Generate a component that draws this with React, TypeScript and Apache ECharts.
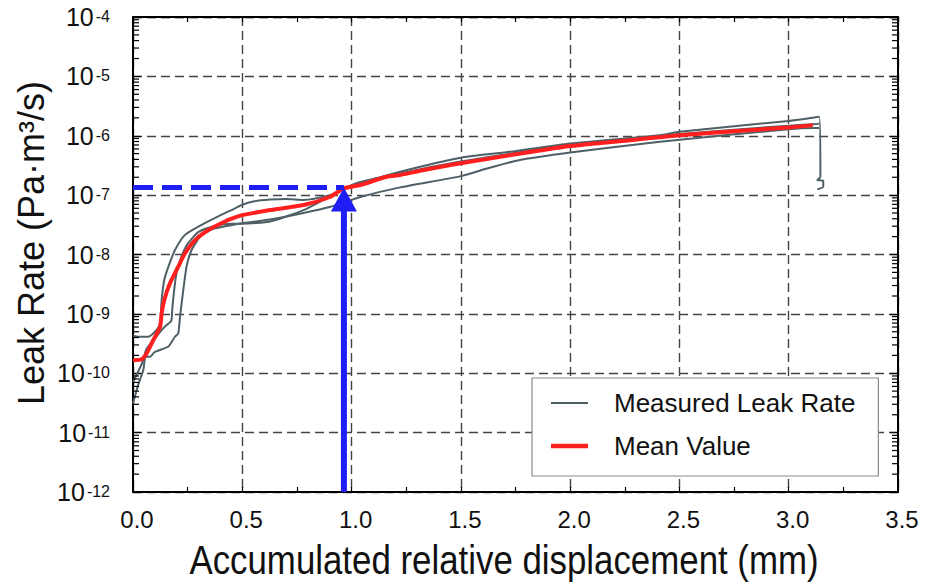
import React, { useEffect, useRef } from "react";
import * as echarts from "echarts";

const FONT = '"Liberation Sans", Arial, Helvetica, sans-serif';
const BLUE = "#1f1ff5";
const GRAY = "#4f5f66";
const RED = "#ff1f1f";

// Axis ranges
const X_MIN = 0;
const X_MAX = 3.5;
const X_STEP = 0.5;
const Y_MIN = 1e-12;
const Y_MAX = 1e-4;

// Measured leak rate, specimen A
const xMeasuredA = [0, 0.024, 0.07, 0.108, 0.124, 0.131, 0.143, 0.162, 0.192, 0.238, 0.314, 0.406, 0.467, 0.5, 0.55, 0.627, 0.7, 0.78, 0.9, 0.978, 1.04, 1.222, 1.5, 1.725, 2.0, 2.411, 2.5, 3.0, 3.14, 3.145, 3.131, 3.158, 3.158, 3.131];
const yMeasuredA = [4.27e-10, 4.12e-10, 4.12e-10, 5.37e-10, 6.92e-10, 1.7e-9, 3.72e-9, 6.24e-9, 1.19e-8, 2.14e-8, 3.16e-8, 4.7e-8, 6.0e-8, 6.9e-8, 7.8e-8, 8.4e-8, 8.6e-8, 8.3e-8, 1.0e-7, 1.3e-7, 1.58e-7, 2.48e-7, 4.27e-7, 5.37e-7, 7.4e-7, 1.02e-6, 1.17e-6, 1.78e-6, 2.09e-6, 2.04e-7, 1.8e-7, 1.74e-7, 1.39e-7, 1.26e-7];

// Measured leak rate, specimen B
const xMeasuredB = [0, 0.02, 0.045, 0.06, 0.08, 0.1, 0.124, 0.15, 0.175, 0.18, 0.19, 0.2, 0.22, 0.25, 0.3, 0.37, 0.45, 0.5, 0.627, 0.78, 0.9, 0.96, 1.04, 1.222, 1.5, 2.0, 2.5, 3.0, 3.13, 3.14];
const yMeasuredB = [7.1e-11, 1.0e-10, 1.58e-10, 2.51e-10, 3.16e-10, 3.8e-10, 5.0e-10, 6.3e-10, 7.6e-10, 1.26e-9, 2.82e-9, 5.0e-9, 8.9e-9, 1.51e-8, 2.4e-8, 3.0e-8, 3.3e-8, 3.3e-8, 3.6e-8, 5.6e-8, 9.5e-8, 1.26e-7, 1.66e-7, 2.34e-7, 3.7e-7, 6.9e-7, 1.07e-6, 1.48e-6, 1.58e-6, 1.6e-6];

// Measured leak rate, specimen C
const xMeasuredC = [0, 0.017, 0.032, 0.047, 0.058, 0.078, 0.1, 0.162, 0.192, 0.207, 0.215, 0.23, 0.245, 0.268, 0.314, 0.375, 0.467, 0.5, 0.627, 0.78, 0.9, 1.04, 1.222, 1.5, 1.62, 1.755, 2.0, 2.411, 3.0, 3.12, 3.14];
const yMeasuredC = [3.1e-11, 5.25e-11, 7.8e-11, 1.12e-10, 1.9e-10, 1.9e-10, 2.29e-10, 2.82e-10, 4.12e-10, 4.68e-10, 8.9e-10, 2.51e-9, 6.24e-9, 1.19e-8, 2.14e-8, 2.75e-8, 3.2e-8, 3.35e-8, 3.9e-8, 5.0e-8, 6.3e-8, 9.3e-8, 1.35e-7, 2.09e-7, 2.8e-7, 3.8e-7, 5.2e-7, 7.9e-7, 1.29e-6, 1.35e-6, 1.35e-6];

// Mean value of the measured curves
const xMean = [0, 0.04, 0.063, 0.093, 0.124, 0.131, 0.143, 0.169, 0.207, 0.238, 0.284, 0.345, 0.421, 0.467, 0.5, 0.627, 0.78, 0.9, 0.965, 1.04, 1.16, 1.222, 1.313, 1.5, 2.0, 2.411, 2.5, 3.0, 3.11];
const yMean = [1.66e-10, 1.72e-10, 2.19e-10, 3.63e-10, 6.1e-10, 1.02e-9, 1.7e-9, 3.27e-9, 6.24e-9, 1.05e-8, 1.75e-8, 2.59e-8, 3.6e-8, 4.2e-8, 4.6e-8, 5.6e-8, 6.8e-8, 9.3e-8, 1.3e-7, 1.48e-7, 2.04e-7, 2.18e-7, 2.57e-7, 3.44e-7, 6.7e-7, 9.4e-7, 1.02e-6, 1.38e-6, 1.51e-6];

// Reading marked on the chart: displacement and leak rate
const READ_X = 0.965;
const READ_Y = 1.35e-7;

const zip = (xs: number[], ys: number[]) => xs.map((x, i) => [x, ys[i]]);

// Logarithmic minor tick positions (2..9 within each decade)
const minorLogTicks: number[] = [];
for (let e = -12; e < -4; e++) {
  for (let m = 2; m <= 9; m++) minorLogTicks.push(m * Math.pow(10, e));
}

// Legend keys: a horizontal bar inside a 37x14 box (corner points fix the box)
const legendBar = (thickness: number) => {
  const top = 7 - thickness / 2;
  const bottom = 7 + thickness / 2;
  return `path://M0,0L0,0M0,${top}H37V${bottom}H0ZM37,14L37,14`;
};

export default function App() {
  const ref = useRef<HTMLDivElement>(null);

  useEffect(() => {
    if (!ref.current) return;
    const chart = echarts.init(ref.current, null, { renderer: "svg" });

    const axisLine = { show: true, onZero: false, lineStyle: { color: "#000", width: 2 } };
    const tickStyle = { color: "#000", width: 1.2 };

    const measuredStyle = {
      type: "line",
      name: "Measured Leak Rate",
      showSymbol: false,
      symbol: "none",
      smooth: 0.2,
      lineStyle: { color: GRAY, width: 2 },
      itemStyle: { color: GRAY },
      z: 3,
    };

    chart.setOption({
      animation: false,
      backgroundColor: "#fff",
      grid: { left: 133, right: 28, top: 17, bottom: 92 },
      legend: {
        orient: "vertical",
        left: 532,
        top: 378,
        data: [
          { name: "Measured Leak Rate", icon: legendBar(1.8) },
          { name: "Mean Value", icon: legendBar(4.5) },
        ],
        itemWidth: 37,
        itemHeight: 14,
        itemGap: 13,
        padding: [10, 23, 15, 19],
        backgroundColor: "#fff",
        borderColor: "#8a8a8a",
        borderWidth: 1.2,
        selectedMode: false,
        textStyle: {
          fontSize: 26,
          fontFamily: FONT,
          color: "#111",
          lineHeight: 30,
          padding: [0, 0, 0, 21],
        },
      },
      xAxis: [
        {
          type: "value",
          min: X_MIN,
          max: X_MAX,
          interval: X_STEP,
          position: "bottom",
          axisLine,
          axisTick: { show: true, inside: true, length: 5, lineStyle: tickStyle },
          minorTick: { show: true, splitNumber: 2, length: 5, lineStyle: tickStyle },
          splitLine: { show: true, lineStyle: { color: "#444", type: [9, 5], width: 1.4 } },
          axisLabel: {
            fontSize: 24,
            fontFamily: FONT,
            color: "#111",
            margin: 15,
            padding: [0, 0, 0, 8],
            formatter: (v: number) => v.toFixed(1),
          },
        },
        {
          type: "value",
          min: X_MIN,
          max: X_MAX,
          interval: X_STEP,
          position: "top",
          axisLine,
          axisTick: { show: true, inside: true, length: 5, lineStyle: tickStyle },
          minorTick: { show: true, splitNumber: 2, length: 5, lineStyle: tickStyle },
          splitLine: { show: false },
          axisLabel: { show: false },
        },
      ],
      yAxis: [
        {
          type: "log",
          logBase: 10,
          min: Y_MIN,
          max: Y_MAX,
          interval: 1,
          position: "left",
          axisLine,
          axisTick: { show: true, inside: true, length: 8, lineStyle: tickStyle },
          splitLine: { show: true, lineStyle: { color: "#444", type: [9, 5], width: 1.4 } },
          axisLabel: {
            margin: 23,
            formatter: (v: number) => `{b|10}{e|${Math.round(Math.log10(v))}}`,
            rich: {
              b: { fontSize: 25, fontFamily: FONT, color: "#111" },
              e: { fontSize: 16, fontFamily: FONT, color: "#111", verticalAlign: "top", padding: [4, 0, 0, 2] },
            },
          },
        },
        {
          type: "log",
          logBase: 10,
          min: Y_MIN,
          max: Y_MAX,
          interval: 1,
          position: "right",
          axisLine,
          axisTick: { show: true, inside: true, length: 8, lineStyle: tickStyle },
          splitLine: { show: false },
          axisLabel: { show: false },
        },
      ],
      graphic: [
        {
          type: "text",
          x: 31,
          y: 243,
          rotation: Math.PI / 2,
          style: {
            text: "Leak Rate (Pa·m³/s)",
            font: `36px ${FONT}`,
            fill: "#111",
            textAlign: "center",
            textVerticalAlign: "middle",
          },
        },
        {
          type: "text",
          x: 504,
          y: 560,
          scaleX: 0.85,
          style: {
            text: "Accumulated relative displacement (mm)",
            font: `41px ${FONT}`,
            fill: "#111",
            textAlign: "center",
            textVerticalAlign: "middle",
          },
        },
      ],
      series: [
        { ...measuredStyle, data: zip(xMeasuredA, yMeasuredA) },
        { ...measuredStyle, data: zip(xMeasuredB, yMeasuredB) },
        { ...measuredStyle, data: zip(xMeasuredC, yMeasuredC) },
        {
          type: "line",
          name: "Mean Value",
          showSymbol: false,
          symbol: "none",
          smooth: 0.2,
          data: zip(xMean, yMean),
          lineStyle: { color: RED, width: 4 },
          itemStyle: { color: RED },
          z: 4,
        },
        {
          type: "line",
          name: "reading-level",
          showSymbol: false,
          symbol: "none",
          data: [
            [X_MIN, READ_Y],
            [READ_X, READ_Y],
          ],
          lineStyle: { color: BLUE, width: 5, type: [20, 9] },
          z: 8,
          silent: true,
        },
        {
          type: "custom",
          name: "reading-arrow",
          data: [[READ_X, READ_Y]],
          encode: { x: 0, y: 1 },
          z: 9,
          silent: true,
          renderItem: (_params: any, api: any) => {
            const tip = api.coord([api.value(0), api.value(1)]);
            const base = api.coord([api.value(0), Y_MIN]);
            const headH = 24;
            const headW = 26;
            return {
              type: "group",
              children: [
                {
                  type: "line",
                  shape: { x1: tip[0], y1: base[1], x2: tip[0], y2: tip[1] + headH - 2 },
                  style: { stroke: BLUE, lineWidth: 6 },
                },
                {
                  type: "polygon",
                  shape: {
                    points: [
                      [tip[0], tip[1]],
                      [tip[0] - headW / 2, tip[1] + headH],
                      [tip[0] + headW / 2, tip[1] + headH],
                    ],
                  },
                  style: { fill: BLUE },
                },
              ],
            };
          },
        },
        {
          type: "custom",
          name: "log-minor-ticks",
          data: minorLogTicks.map((v) => [X_MIN, v]),
          encode: { x: 0, y: 1 },
          z: 10,
          silent: true,
          renderItem: (_params: any, api: any) => {
            const v = api.value(1);
            const l = api.coord([X_MIN, v]);
            const r = api.coord([X_MAX, v]);
            const len = 6;
            return {
              type: "group",
              children: [
                { type: "line", shape: { x1: l[0], y1: l[1], x2: l[0] + len, y2: l[1] }, style: { stroke: "#000", lineWidth: 1.2 } },
                { type: "line", shape: { x1: r[0] - len, y1: r[1], x2: r[0], y2: r[1] }, style: { stroke: "#000", lineWidth: 1.2 } },
              ],
            };
          },
        },
      ],
    });

    return () => chart.dispose();
  }, []);

  return (
    <div
      ref={ref}
      style={{ position: "fixed", left: 0, top: 0, width: 926, height: 584, background: "#fff" }}
    />
  );
}
